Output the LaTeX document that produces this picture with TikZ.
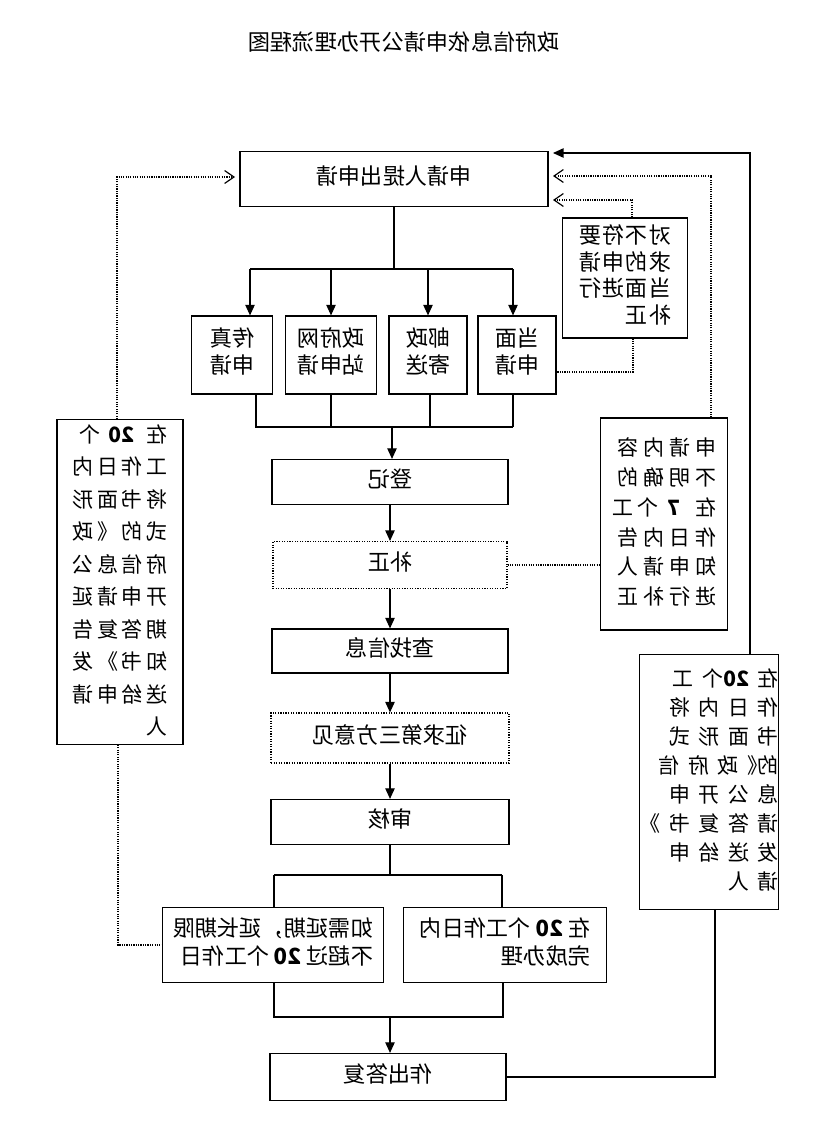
\documentclass[tikz,border=0pt]{standalone}
\usepackage{fontspec}
\setmainfont{Noto Sans CJK SC}
\usetikzlibrary{arrows.meta}

% mirrored text block: [letter space]{size}{line skip}{lines}
\newcommand{\flip}[4][0]{\reflectbox{\fontsize{#2}{#3}\selectfont\addfontfeatures{LetterSpace=#1}\begin{tabular}{@{}l@{}}#4\end{tabular}}}
\newcommand{\num}[1]{\textbf{\addfontfeatures{LetterSpace=0}#1}}

\begin{document}
\begin{tikzpicture}
    [x=0.03cm,y=-0.03cm,
    wh/.style 2 args={minimum width=#1*0.03cm,minimum height=#2*0.03cm},
    box/.style={draw,line width=1pt,inner sep=0pt},
    dotbox/.style={draw,line width=0.9pt,dash pattern=on 1pt off 1.2pt,inner sep=0pt},
    link/.style={line width=1pt},
    flow/.style={line width=1pt,-{Triangle[length=9pt,width=8pt]}},
    hint line/.style={line width=1pt,dash pattern=on 1pt off 1pt},
    hint/.style={hint line,-{Straight Barb[length=8pt,width=11pt]}},
    ]
    \useasboundingbox (0,0) rectangle (825,1125);

    %title
    \node (title) at (404,45) {\flip{19pt}{24pt}{政府信息依申请公开办理流程图}};

    %application
    \node[box,wh={308}{55}] (apply) at (394,179) {\flip{19pt}{24pt}{申请人提出申请}};
    \node[box,wh={125}{120}] (redo) at (625,278) {\flip[5]{19pt}{22.8pt}{对不符要\\求的申请\\当面进行\\补正}};
    \node[box,wh={81}{78}] (fax) at (232,355) {\flip{19pt}{23pt}{传真\\申请}};
    \node[box,wh={91}{78}] (web) at (331,355) {\flip{19pt}{23pt}{政府网\\站申请}};
    \node[box,wh={78}{78}] (post) at (428,355) {\flip{19pt}{23pt}{邮政\\寄送}};
    \node[box,wh={78}{78}] (face) at (517,355) {\flip{19pt}{23pt}{当面\\申请}};

    %main column
    \node[box,wh={236}{45}] (register) at (390,482) {\flip{19pt}{24pt}{登记}};
    \node[dotbox,wh={234}{47}] (supply) at (390,565) {\flip{19pt}{24pt}{补正}};
    \node[box,wh={236}{44}] (search) at (390,651) {\flip{19pt}{24pt}{查找信息}};
    \node[dotbox,wh={238}{50}] (consult) at (390,738) {\flip{19pt}{24pt}{征求第三方意见}};
    \node[box,wh={238}{45}] (review) at (390,822) {\flip{19pt}{24pt}{审核}};
    \node[box,wh={221}{75}] (extend) at (273,945) {\flip{19pt}{24pt}{如需延期，延长期限\\不超过 \num{20} 个工作日}};
    \node[box,wh={203}{75}] (done) at (505,945) {\flip{19pt}{24pt}{在 \num{20} 个工作日内\\完成办理}};
    \node[box,wh={236}{47}] (reply) at (388,1077) {\flip{19pt}{24pt}{作出答复}};

    %side notes
    \node[box,wh={126}{319}] (delay) at (120,582) {\flip[17]{18pt}{27.7pt}{在 \num{20} 个\\工作日内\\将书面形\\式的《政\\府信息公\\开申请延\\期答复告\\知书》发\\送给申请\\人}};
    \node[box,wh={127}{212}] (clarify) at (664,524) {\flip[22]{18pt}{25.6pt}{申请内容\\不明确的\\在 \num{7} 个工\\作日内告\\知申请人\\进行补正}};
    \node[box,wh={134}{255}] (notice) at (709,782) {\flip[40]{18pt}{24.7pt}{在\num{20}个工\\作日内将\\书面形式\\的\kern-.5em《政府信\\息公开申\\请答复书》\\发送给申\\请人}};

    %buses and arrow tips
    \coordinate (busTop) at (392,269);
    \coordinate (busMid) at (392,427);
    \coordinate (busLow) at (390,875);
    \coordinate (busEnd) at (390,1017);
    \coordinate (tipL) at (235,177);
    \coordinate (tipA) at (553,153);
    \coordinate (tipB) at (553,176);
    \coordinate (tipC) at (553,200);

    %split to the four ways
    \draw[link] (apply.south) -- (apply.south |- busTop);
    \draw[link] (250,269) -- (513,269);
    \foreach \n/\x in {fax/250,web/331,post/428,face/513}
        \draw[flow] (\x,269) -- (\n.north -| \x,0);
    \foreach \n/\x in {fax/256,web/331,post/430,face/513}
        \draw[link] (\n.south -| \x,0) -- (\x,427);
    \draw[link] (255,427) -- (513,427);
    \draw[flow] (busMid) -- (register.north -| busMid);

    %steps
    \draw[flow] (register) -- (supply);
    \draw[flow] (supply) -- (search);
    \draw[flow] (search) -- (consult);
    \draw[flow] (consult) -- (review);
    \draw[link] (review.south) -- (busLow);
    \draw[link] (274,875) -- (502,875);
    \draw[link] (274,875) -- (extend.north -| 274,0);
    \draw[link] (502,875) -- (done.north -| 502,0);
    \draw[link] (extend.south -| 274,0) -- (274,1017);
    \draw[link] (done.south -| 503,0) -- (503,1017);
    \draw[link] (273,1017) -- (504,1017);
    \draw[flow] (busEnd) -- (reply.north -| busEnd);

    %back to the applicant
    \draw[hint] (delay.north -| 117,0) |- (tipL);
    \draw[hint line] (delay.south -| 118,0) |- (extend.west);
    \draw[hint line] (supply.east) -- (supply.east -| clarify.west);
    \draw[hint] (clarify.north -| 711,0) |- (tipB);
    \draw[hint] (redo.north -| 632,0) |- (tipC);
    \draw[hint line] (redo.south -| 633,0) |- (face.east |- 0,372);
    \draw[link] (reply.east) -| (notice.south -| 715,0);
    \draw[flow] (notice.north -| 750,0) |- (tipA);

    \end{tikzpicture}
\end{document}
